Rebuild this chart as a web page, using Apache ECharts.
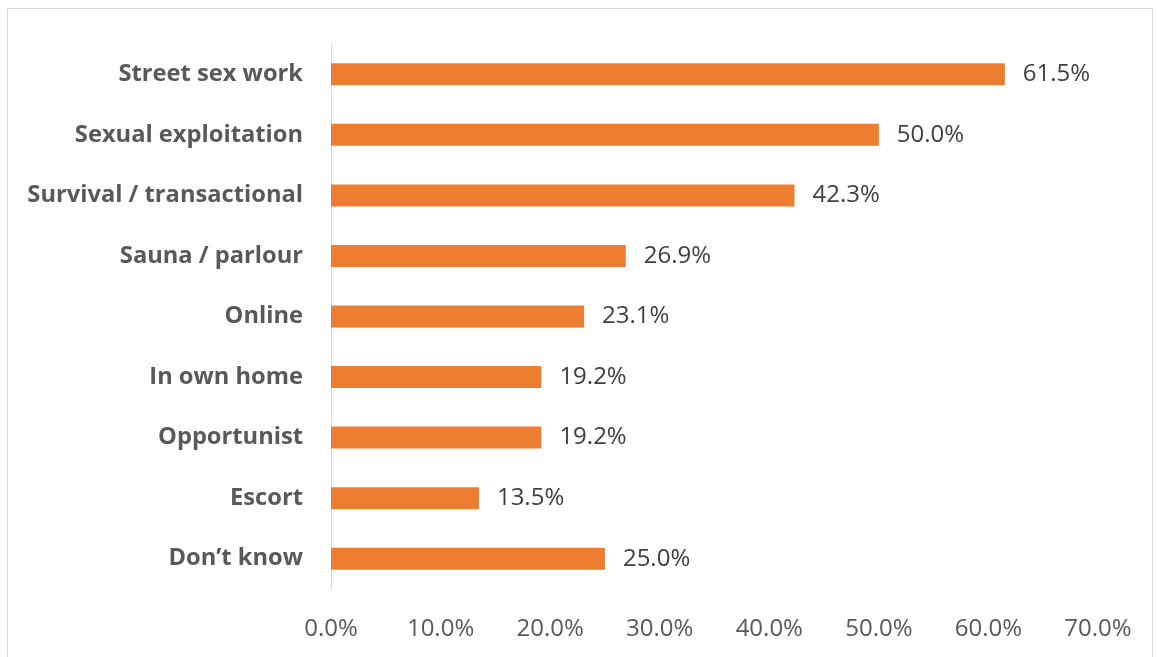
<!DOCTYPE html>
<html>
<head>
<meta charset="utf-8">
<script src="https://cdn.jsdelivr.net/npm/echarts@6/dist/echarts.min.js"></script>
<style>
  html, body { margin: 0; padding: 0; background: #fff; overflow: hidden; }
  .frame {
    position: absolute; left: 7px; top: 8px; width: 1146px; height: 660px;
    border: 1px solid #d9d9d9; box-sizing: border-box;
  }
  #chart { position: absolute; left: 0; top: 0; width: 1157px; height: 657px; }
</style>
</head>
<body>
<div class="frame"></div>
<div id="chart"></div>
<script>
// categories, top to bottom as in the picture
const categories = [
  'Street sex work',
  'Sexual exploitation',
  'Survival / transactional',
  'Sauna / parlour',
  'Online',
  'In own home',
  'Opportunist',
  'Escort',
  'Don\u2019t know'
];
const values = [61.5, 50.0, 42.3, 26.9, 23.1, 19.2, 19.2, 13.5, 25.0];
const xTicks = [0, 10, 20, 30, 40, 50, 60, 70];

const chart = echarts.init(document.getElementById('chart'));

const option = {
  animation: false,
  grid: {
    left: 331,
    right: 59,
    top: 44,
    bottom: 68
  },
  xAxis: {
    type: 'value',
    min: xTicks[0],
    max: xTicks[xTicks.length - 1],
    interval: 10,
    axisLine: { show: false },
    axisTick: { show: false },
    splitLine: { show: false },
    axisLabel: {
      formatter: v => v.toFixed(1) + '%',
      color: '#595959',
      fontFamily: 'Open Sans',
      fontSize: 24,
      margin: 28
    }
  },
  yAxis: {
    type: 'category',
    inverse: true,
    data: categories,
    axisLine: { lineStyle: { color: '#d9d9d9', width: 1 } },
    axisTick: { show: false },
    axisLabel: {
      color: '#595959',
      fontFamily: 'Open Sans',
      fontWeight: 'bold',
      fontSize: 23.7,
      margin: 28
    }
  },
  series: [
    {
      type: 'bar',
      data: values,
      barWidth: 22,
      itemStyle: { color: '#ed7d31' },
      label: {
        show: true,
        position: 'right',
        distance: 18,
        formatter: p => p.value.toFixed(1) + '%',
        color: '#404040',
        fontFamily: 'Open Sans',
        fontSize: 24
      }
    }
  ]
};

chart.setOption(option);
</script>
</body>
</html>
